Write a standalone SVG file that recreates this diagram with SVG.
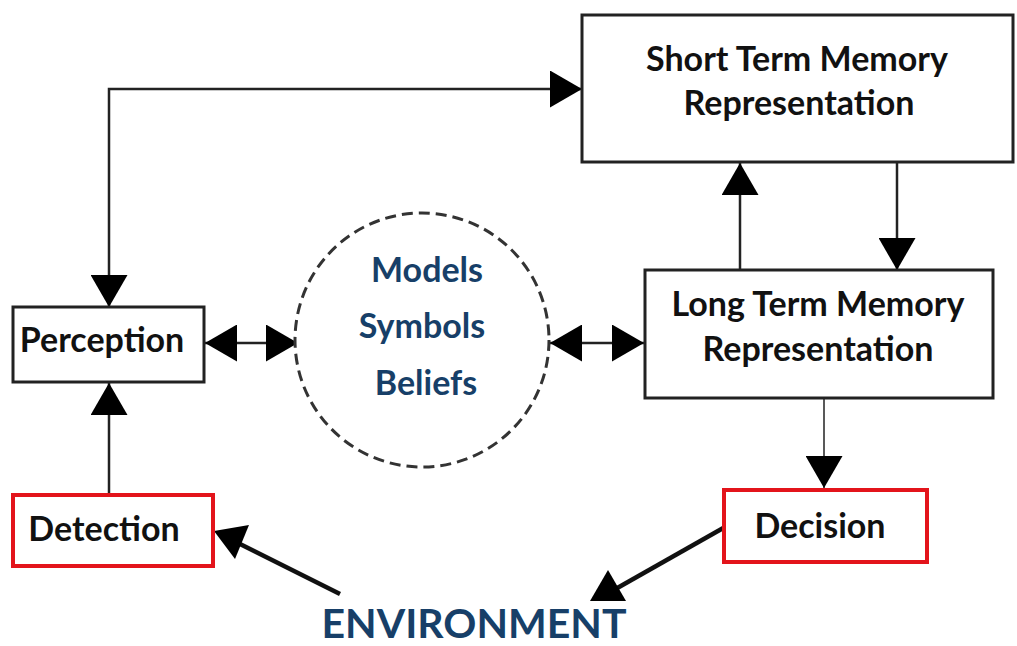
<svg xmlns="http://www.w3.org/2000/svg" width="1017" height="646" viewBox="0 0 1017 646">
<defs>
<style>
.box{fill:#fff;stroke:#222;stroke-width:3}
.red{fill:#fff;stroke:#e3141b;stroke-width:4}
.lbl{font-family:Lato,"Open Sans","Liberation Sans",sans-serif;font-weight:700;font-size:34px;fill:#111;text-anchor:middle}
.blue{fill:#173f68}
.line{fill:none;stroke:#222;stroke-width:2.5}
.thin{fill:none;stroke:#222;stroke-width:1.5}
.thick{fill:none;stroke:#111;stroke-width:4.5}
</style>
<marker id="tri" viewBox="0 0 32 37" markerWidth="32" markerHeight="37" refX="32" refY="18.5" markerUnits="userSpaceOnUse" orient="auto-start-reverse">
<path d="M0,0 L32,18.5 L0,37 Z" fill="#000"/>
</marker>
</defs>
<rect width="1017" height="646" fill="#fff"/>

<g id="connectors">
<path class="line" d="M109,307 V89 H582" marker-start="url(#tri)" marker-end="url(#tri)"/>
<path class="line" d="M205,343 H298" marker-start="url(#tri)" marker-end="url(#tri)"/>
<path class="line" d="M550,343 H644" marker-start="url(#tri)" marker-end="url(#tri)"/>
<path class="line" d="M740,270 V163" marker-end="url(#tri)"/>
<path class="line" d="M897,163 V270" marker-end="url(#tri)"/>
<path class="thin" d="M824,399 V488" marker-end="url(#tri)"/>
<path class="line" d="M109,494 V383" marker-end="url(#tri)"/>
<path class="thick" d="M340,594 L238,543"/>
<polygon points="214,531 249,525 235,559" fill="#000"/>
<path class="thick" d="M725,527 L612,591"/>
<polygon points="608,570 590,601 626,601" fill="#000"/>
</g>

<g id="stm">
<rect class="box" x="582" y="15" width="431" height="147"/>
<text class="lbl" x="797" y="71">Short Term Memory</text>
<text class="lbl" x="799" y="115">Representation</text>
</g>

<g id="ltm">
<rect class="box" x="645" y="270" width="348" height="128"/>
<text class="lbl" x="818" y="316">Long Term Memory</text>
<text class="lbl" x="818" y="361">Representation</text>
</g>

<g id="perception">
<rect class="box" x="13" y="307" width="191" height="75"/>
<text class="lbl" x="102" y="352">Perception</text>
</g>

<g id="models">
<circle cx="422" cy="340" r="127" fill="#fff" stroke="#333" stroke-width="3" stroke-dasharray="11 6"/>
<text class="lbl blue" x="427" y="282">Models</text>
<text class="lbl blue" x="422" y="338">Symbols</text>
<text class="lbl blue" x="426" y="395">Beliefs</text>
</g>

<g id="detection">
<rect class="red" x="13" y="495" width="200" height="71"/>
<text class="lbl" x="104" y="541">Detection</text>
</g>

<g id="decision">
<rect class="red" x="724" y="490" width="203" height="72"/>
<text class="lbl" x="820" y="538">Decision</text>
</g>

<g id="environment">
<text class="lbl blue" x="474" y="638" style="font-size:41px">ENVIRONMENT</text>
</g>
</svg>
